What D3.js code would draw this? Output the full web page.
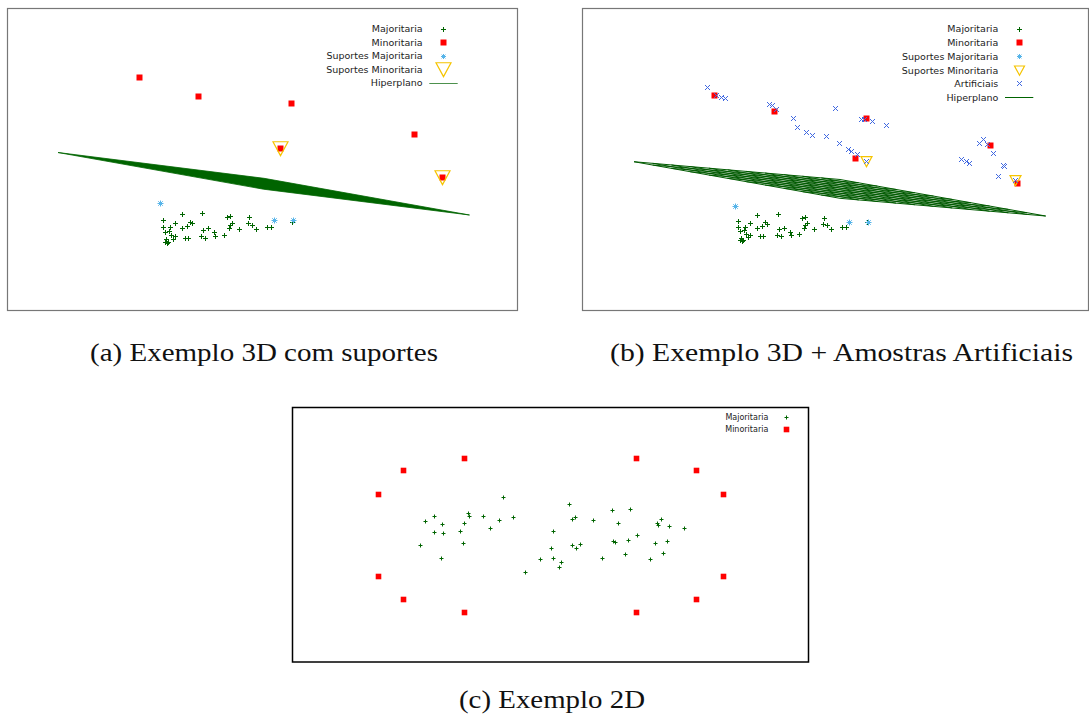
<!DOCTYPE html>
<meta charset="utf-8">
<style>body{margin:0;background:#fff}</style>
<svg width="1089" height="719"></svg>
<script src="https://d3js.org/d3.v7.min.js"></script>
<script>

// Dados 3D ja projetados (coordenadas de tela do gnuplot: u para a direita, v para cima)
var majoritaria = [[156,91],[156,84],[163,84],[168,88],[175,97],[175,83],[180,85],[183,89],[185,87],
  [158,79],[162,80],[164,76],[168,75],[166,72],[159,71],[160,68],[161,69],[158,69],[178,73],[181,73],
  [196,98],[197,81],[202,83],[195,75],[199,73],[208,78],[209,75],[217,76],[220,94],[223,95],[223,86],
  [225,88],[222,83],[232,82],[242,94],[241,87],[245,86],[249,82],[260,84],[264,84],[285,89]];
var minoritaria = [[132,234],[192,215],[284,208],[408,177],[273,162],[435,134]];
var suportesMaj = [[153,108],[267,90],[286,90]];
var suportesMinA = [[273,162],[435,134]];
var suportesMinB = [[284,159],[433,137]];
var artificiais = [[125,243],[134,234],[139,232],[143,230],[187,223],[190,222],[194,218],[211,208],
  [215,197],[224,192],[230,188],[244,187],[253,219],[257,179],[266,172],[269,170],[275,167],[284,159],
  [279,206],[282,206],[290,204],[304,200],[379,161],[384,159],[387,157],[397,179],[401,184],[405,178],
  [411,168],[421,154],[422,153],[416,142],[433,137]];
// hiperplano: cantos A, C, B, D (a vista de (b) tem outra escala em z)
var hiperplanoA = [[51,158.5],[257,132.7],[462.5,96],[256.5,121.8]];
var hiperplanoB = [[51.5,158.5],[257.5,138.3],[463.2,96.8],[257.5,116.9]];

// Exemplo 2D
var maj2d = [[-0.47,0.38],[-1.25,0.14],[-1.16,0.19],[-1.08,0.11],[-1.16,0.03],[-1.07,0.02],[-1.30,-0.10],
  [-1.09,-0.23],[-0.82,0.22],[-0.81,0.19],[-0.86,0.12],[-0.90,0.04],[-0.87,-0.08],[-0.67,0.19],[-0.60,0.07],
  [-0.51,0.15],[-0.37,0.18],[-0.25,-0.37],[-0.10,-0.24],[0.03,0.04],[0.015,-0.13],[0.035,-0.23],[0.11,-0.27],
  [0.09,-0.32],[0.19,0.31],[0.22,0.16],[0.25,0.18],[0.22,-0.10],[0.26,-0.13],[0.30,-0.09],[0.43,0.15],
  [0.52,-0.23],[0.62,0.25],[0.68,0.12],[0.63,-0.06],[0.65,-0.07],[0.78,-0.05],[0.75,-0.19],[0.80,0.26],
  [0.87,0.00],[1.07,0.12],[1.08,0.10],[1.11,0.16],[1.19,0.09],[1.05,-0.08],[1.17,-0.06],[1.13,-0.18],
  [1.00,-0.24],[1.34,0.07]];
var min2d = [[-0.86,0.77],[-1.47,0.64],[-1.72,0.41],[-1.72,-0.41],[-1.47,-0.64],[-0.86,-0.77],
  [0.86,0.77],[1.47,0.64],[1.73,0.41],[1.73,-0.41],[1.47,-0.64],[0.86,-0.77]];

var legendaA = ["Majoritaria","Minoritaria","Suportes Majoritaria","Suportes Minoritaria","Hiperplano"];
var legendaB = ["Majoritaria","Minoritaria","Suportes Majoritaria","Suportes Minoritaria","Artificiais","Hiperplano"];
var legendaC = ["Majoritaria","Minoritaria"];
var legendas = ["(a) Exemplo 3D com suportes","(b) Exemplo 3D + Amostras Artificiais","(c) Exemplo 2D"];

var svg = d3.select("svg");
svg.append("rect").attr("width",1089).attr("height",719).attr("fill","#fff");

// marcadores estilo gnuplot
var plus = {draw: function(c, r) { c.moveTo(-r,0); c.lineTo(r,0); c.moveTo(0,-r); c.lineTo(0,r); }};
var cross = {draw: function(c, r) { c.moveTo(-r,-r); c.lineTo(r,r); c.moveTo(-r,r); c.lineTo(r,-r); }};
var star = {draw: function(c, r) { plus.draw(c, r); cross.draw(c, r*0.75); }};
var square = {draw: function(c, r) { c.rect(-r,-r,2*r,2*r); }};
var tri = {draw: function(c, r) { c.moveTo(-r,-r*0.9); c.lineTo(r,-r*0.9); c.lineTo(0,r*0.95); c.closePath(); }};

var estilos = {
  maj:  {type: plus,   fill: "none", stroke: "#006400", sw: 1},
  min:  {type: square, fill: "#ff0000", stroke: "none", sw: 0},
  smaj: {type: star,   fill: "none", stroke: "#56b4e9", sw: 1},
  smin: {type: tri,    fill: "none", stroke: "#f5c400", sw: 1.2},
  art:  {type: cross,  fill: "none", stroke: "#4169e1", sw: 1}
};

// encaixa no centro do pixel para linhas de 1px nitidas
var px = function(v) { return Math.round(v - 0.5) + 0.5; };

function pontos(g, dados, x, y, est, r) {
  g.append("g").selectAll("path").data(dados).join("path")
    .attr("transform", function(d) { return "translate(" + px(x(d[0])) + "," + px(y(d[1])) + ")"; })
    .attr("d", d3.symbol().type(est.type).size(r))
    .attr("fill", est.fill).attr("stroke", est.stroke).attr("stroke-width", est.sw);
}

function legenda(g, nomes, tx, sx, y0, dy, fs, simbolos, linha) {
  nomes.forEach(function(n, i) {
    var y = y0 + i*dy;
    g.append("text").attr("x", tx).attr("y", y + fs*0.36).attr("text-anchor","end")
      .attr("font-family","DejaVu Sans").attr("font-size", fs).attr("fill","#222").text(n);
    var s = simbolos[i];
    if (s.linha) {
      g.append("line").attr("x1", linha[0]).attr("x2", linha[1]).attr("y1", px(y)).attr("y2", px(y))
        .attr("stroke", s.cor).attr("stroke-width", 1);
    } else {
      g.append("path").attr("transform","translate(" + px(sx) + "," + px(y) + ")")
        .attr("d", d3.symbol().type(s.est.type).size(s.r))
        .attr("fill", s.est.fill).attr("stroke", s.est.stroke).attr("stroke-width", s.est.sw);
    }
  });
}

function caixa(x0, y0, x1, y1, cor, sw) {
  svg.append("rect").attr("x", x0).attr("y", y0).attr("width", x1-x0).attr("height", y1-y0)
    .attr("fill","none").attr("stroke", cor).attr("stroke-width", sw);
}

// superficie desenhada como isolinhas (splot com isosamples)
function malha(g, cantos, x, y, n, cor, sw) {
  var p = cantos.map(function(d) { return [x(d[0]), y(d[1])]; });
  var A = p[0], C = p[1], B = p[2], D = p[3];
  var lerp = function(a, b, t) { return [a[0]+(b[0]-a[0])*t, a[1]+(b[1]-a[1])*t]; };
  var linhas = [];
  for (var i = 0; i <= n; i++) {
    var t = i/n;
    linhas.push([lerp(A,D,t), lerp(C,B,t)]);
    linhas.push([lerp(A,C,t), lerp(D,B,t)]);
  }
  g.append("g").selectAll("line").data(linhas).join("line")
    .attr("x1", function(d){return d[0][0];}).attr("y1", function(d){return d[0][1];})
    .attr("x2", function(d){return d[1][0];}).attr("y2", function(d){return d[1][1];})
    .attr("stroke", cor).attr("stroke-width", sw);
}

// ---- (a) ----
var xa = d3.scaleLinear().domain([0,511]).range([7,518]);
var ya = d3.scaleLinear().domain([0,303]).range([311,8]);
var ga = svg.append("g");
pontos(ga, majoritaria, xa, ya, estilos.maj, 2.5);
pontos(ga, minoritaria, xa, ya, estilos.min, 3);
pontos(ga, suportesMaj, xa, ya, estilos.smaj, 3);
pontos(ga, suportesMinA, xa, ya, estilos.smin, 7.5);
ga.append("path")
  .attr("d", d3.line().x(function(d){return xa(d[0]);}).y(function(d){return ya(d[1]);}).curve(d3.curveLinearClosed)(hiperplanoA))
  .attr("fill","#006400").attr("stroke","#006400").attr("stroke-width",0.8);
legenda(ga, legendaA, 422.7, 443.3, 29, 13.5, 9.5, [
  {est: estilos.maj, r: 2.5}, {est: estilos.min, r: 3}, {est: estilos.smaj, r: 2.5},
  {est: estilos.smin, r: 7.5}, {linha: true, cor: "#4d914d"}], [429.3, 457.7]);
caixa(7.5, 8.5, 517.5, 310.5, "#777", 1.2);

// ---- (b) ----
var xb = d3.scaleLinear().domain([0,511]).range([582.5,1093.5]);
var yb = d3.scaleLinear().domain([0,303]).range([301.2,34.56]);
var gb = svg.append("g");
pontos(gb, majoritaria, xb, yb, estilos.maj, 2.5);
pontos(gb, minoritaria, xb, yb, estilos.min, 3);
pontos(gb, suportesMaj, xb, yb, estilos.smaj, 3);
pontos(gb, suportesMinB, xb, yb, estilos.smin, 5.5);
pontos(gb, artificiais, xb, yb, estilos.art, 2.5);
malha(gb, hiperplanoB, xb, yb, 11, "#005a00", 1);
legenda(gb, legendaB, 998.3, 1019, 29, 13.7, 9.5, [
  {est: estilos.maj, r: 2.5}, {est: estilos.min, r: 3}, {est: estilos.smaj, r: 2.5},
  {est: estilos.smin, r: 5}, {est: estilos.art, r: 2.5}, {linha: true, cor: "#006400"}], [1005, 1033.3]);
caixa(582.5, 8.5, 1088.5, 310.5, "#777", 1.2);

// ---- (c) ----
var xc = d3.scaleLinear().domain([-2.58,2.59]).range([292,809]);
var yc = d3.scaleLinear().domain([-1.27,1.28]).range([662,407]);
var gc = svg.append("g");
pontos(gc, maj2d, xc, yc, estilos.maj, 2);
pontos(gc, min2d, xc, yc, estilos.min, 2.8);
legenda(gc, legendaC, 768.3, 786.7, 417.3, 12, 8, [
  {est: estilos.maj, r: 2}, {est: estilos.min, r: 2.8}]);
caixa(292.5, 407.5, 808.5, 662, "#000", 1.5);

// ---- legendas das figuras ----
var cap = [[264, 361, 348], [841.5, 361, 463], [552, 708, 186]];
legendas.forEach(function(t, i) {
  svg.append("text").attr("x", cap[i][0]).attr("y", cap[i][1]).attr("text-anchor","middle")
    .attr("font-family","Liberation Serif, serif").attr("font-size", 26).attr("fill","#111")
    .attr("textLength", cap[i][2]).attr("lengthAdjust","spacingAndGlyphs").text(t);
});
</script>
